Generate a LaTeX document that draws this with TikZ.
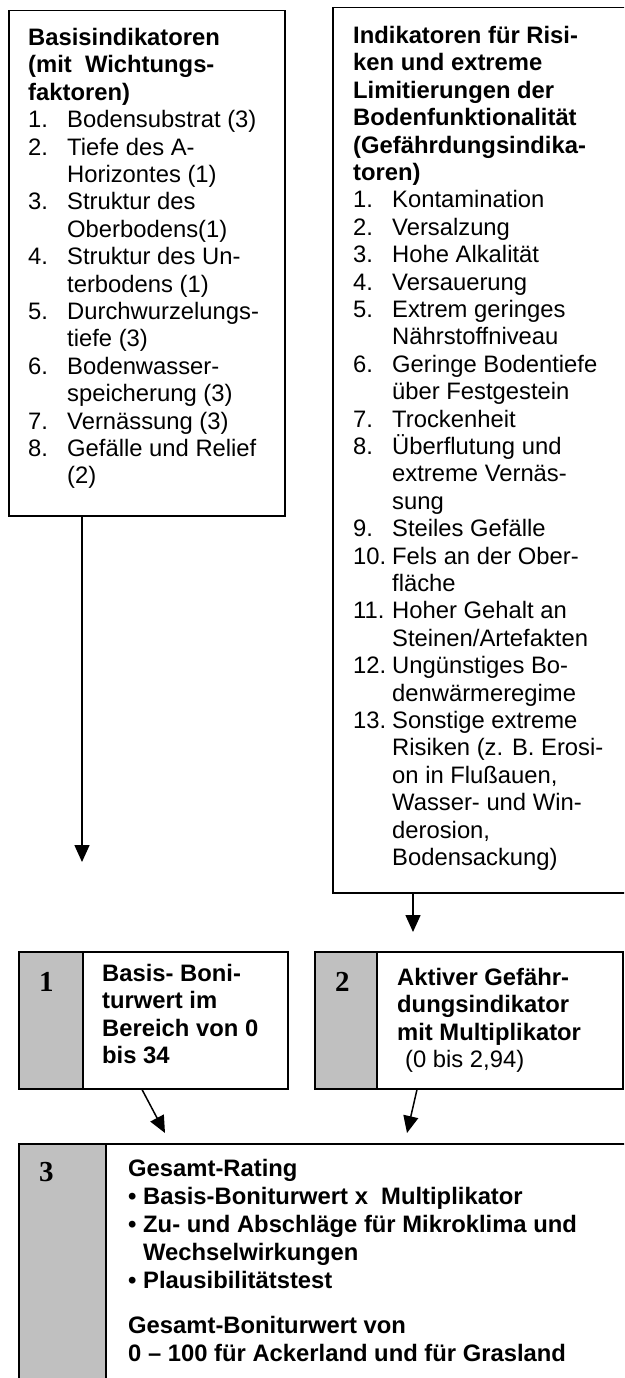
\documentclass[tikz,border=0pt]{standalone}
\usepackage{fontspec}
\setmainfont{Liberation Sans}
\newfontfamily\numfont{Liberation Serif}
\usetikzlibrary{arrows.meta}
\definecolor{kastengrau}{RGB}{192,192,192}
\newcommand{\nr}[2]{\makebox[39pt][l]{#1}#2}
\newcommand{\nc}[1]{\hspace*{39pt}#1}
\newcommand{\bul}[1]{\makebox[15pt][l]{\textbullet}#1}
\begin{document}
\begin{tikzpicture}[x=1pt,y=-1pt]
  \tikzstyle{every node}=[inner sep=0pt,anchor=north west,font=\fontsize{23.8}{27.4}\selectfont]
  \tikzstyle{kasten}=[draw,line width=1.5pt,rectangle]
  \tikzstyle{grau}=[kasten,fill=kastengrau]
  \tikzstyle{liste}=[align=left]
  \tikzstyle{nummer}=[font=\numfont\bfseries\fontsize{29}{30}\selectfont]
  \tikzstyle{pfeil}=[line width=1.5pt,-{Triangle[width=15pt,length=17pt]}]
  \useasboundingbox (0,0) rectangle (624,1378);
  \clip (0,0) rectangle (624,1378);
  \node[kasten,minimum width=276pt,minimum height=505pt] (basis) at (8,10) {};
  \node[kasten,minimum width=310pt,minimum height=885pt] (risiko) at (332,7) {};
  \node[liste] (basistext) at (28,28) {\textbf{Basisindikatoren}\\
    \textbf{(mit\ \ Wichtungs-}\\ \textbf{faktoren)}\\
    \nr{1.}{Bodensubstrat (3)}\\ \nr{2.}{Tiefe des A-}\\ \nc{Horizontes (1)}\\
    \nr{3.}{Struktur des}\\ \nc{Oberbodens(1)}\\ \nr{4.}{Struktur des Un-}\\
    \nc{terbodens (1)}\\ \nr{5.}{Durchwurzelungs-}\\ \nc{tiefe (3)}\\
    \nr{6.}{Bodenwasser-}\\ \nc{speicherung (3)}\\ \nr{7.}{Vernässung (3)}\\
    \nr{8.}{Gefälle und Relief}\\ \nc{(2)}};
  \node[liste] (risikotext) at (353,26) {\textbf{Indikatoren für Risi-}\\
    \textbf{ken und extreme}\\ \textbf{Limitierungen der}\\
    \textbf{Bodenfunktionalität}\\ \textbf{(Gefährdungsindika-}\\ \textbf{toren)}\\
    \nr{1.}{Kontamination}\\ \nr{2.}{Versalzung}\\ \nr{3.}{Hohe Alkalität}\\
    \nr{4.}{Versauerung}\\ \nr{5.}{Extrem geringes}\\ \nc{Nährstoffniveau}\\
    \nr{6.}{Geringe Bodentiefe}\\ \nc{über Festgestein}\\ \nr{7.}{Trockenheit}\\
    \nr{8.}{Überflutung und}\\ \nc{extreme Vernäs-}\\ \nc{sung}\\
    \nr{9.}{Steiles Gefälle}\\ \nr{10.}{Fels an der Ober-}\\ \nc{fläche}\\
    \nr{11.}{Hoher Gehalt an}\\ \nc{Steinen/Artefakten}\\
    \nr{12.}{Ungünstiges Bo-}\\ \nc{denwärmeregime}\\
    \nr{13.}{Sonstige extreme}\\ \nc{Risiken (z. B. Erosi-}\\ \nc{on in Flußauen,}\\
    \nc{Wasser- und Win-}\\ \nc{derosion,}\\ \nc{Bodensackung)}};
  \node[grau,minimum width=64pt,minimum height=137pt] (einsgrau) at (18,951) {};
  \node[kasten,minimum width=205pt,minimum height=137pt] (eins) at (82,951) {};
  \node[grau,minimum width=62pt,minimum height=137pt] (zweigrau) at (314,951) {};
  \node[kasten,minimum width=246pt,minimum height=137pt] (zwei) at (376,951) {};
  \node[grau,minimum width=87pt,minimum height=250pt] (dreigrau) at (18,1143) {};
  \node[kasten,minimum width=530pt,minimum height=250pt] (drei) at (105,1143) {};
  \node[nummer] (n1) at (39,972) {1};
  \node[nummer] (n2) at (335,972) {2};
  \node[nummer] (n3) at (39,1162) {3};
  \node[liste,font=\bfseries\fontsize{23.8}{27.4}\selectfont] (einstext) at (102,964)
    {Basis- Boni-\\ turwert im\\ Bereich von 0\\ bis 34};
  \node[liste] (zweitext) at (397,968) {\textbf{Aktiver Gefähr-}\\
    \textbf{dungsindikator}\\ \textbf{mit Multiplikator}\\ \hspace*{8pt}(0 bis 2,94)};
  \node[liste,font=\bfseries\fontsize{23.8}{28}\selectfont] (dreitext) at (128,1159)
    {Gesamt-Rating\\ \bul{Basis-Boniturwert x\ \ Multiplikator}\\
    \bul{Zu- und Abschläge für Mikroklima und}\\ \hspace*{15pt}Wechselwirkungen\\
    \bul{Plausibilitätstest}\\[17pt] Gesamt-Boniturwert von\\
    0 – 100 für Ackerland und für Grasland};
  \coordinate (spitze1) at (82,862);
  \coordinate (spitze2) at (413,932);
  \coordinate (spitze3) at (165,1133);
  \coordinate (spitze4) at (407,1133);
  \draw[pfeil] ([xshift=74pt]basis.south west) -- (spitze1);
  \draw[pfeil] ([xshift=81pt]risiko.south west) -- (spitze2);
  \draw[pfeil] ([xshift=60pt]eins.south west) -- (spitze3);
  \draw[pfeil] ([xshift=41pt]zwei.south west) -- (spitze4);
\end{tikzpicture}
\end{document}
